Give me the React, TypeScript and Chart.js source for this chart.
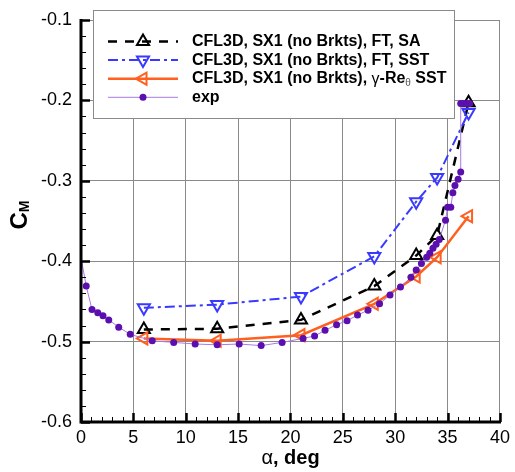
import { useEffect, useRef } from "react";
import { Chart, registerables } from "chart.js";
Chart.register(...registerables);

// ---- data ----
const alphaSA = [6, 13, 21, 28, 32, 34, 37];
const cmSA = [-0.485, -0.484, -0.473, -0.431, -0.393, -0.368, -0.203];
const alphaSST = [6, 13, 21, 28, 32, 34, 37];
const cmSST = [-0.458, -0.454, -0.444, -0.394, -0.326, -0.296, -0.215];
const alphaGRe = [6, 13, 21, 28, 32, 34, 37];
const cmGRe = [-0.496, -0.499, -0.492, -0.453, -0.419, -0.395, -0.344];
const alphaExp = [
  -0.5, 0.5, 1.05, 1.6, 2.1, 2.65, 3.6, 4.7, 6.8, 8.85, 10.9, 13.0, 15.1, 17.2, 19.2, 21.2, 22.3,
  23.3, 24.4, 25.4, 26.4, 27.4, 28.5, 29.5, 30.5, 31.5, 32.0, 32.5, 33.0, 33.3, 33.6, 33.9, 34.2,
  34.8, 35.0, 35.3, 35.5, 35.7, 36.0, 36.25, 36.25, 36.5, 36.8, 37.1,
];
const cmExp = [
  -0.36, -0.431, -0.46, -0.464, -0.468, -0.473, -0.482, -0.491, -0.499, -0.501, -0.503, -0.504,
  -0.503, -0.505, -0.501, -0.496, -0.493, -0.486, -0.479, -0.474, -0.467, -0.461, -0.453, -0.442,
  -0.432, -0.42, -0.411, -0.403, -0.395, -0.39, -0.384, -0.379, -0.373, -0.349, -0.333, -0.333,
  -0.315, -0.306, -0.298, -0.289, -0.204, -0.204, -0.204, -0.204,
];
const xTickValues = [0, 5, 10, 15, 20, 25, 30, 35, 40];
const yTickValues = [-0.6, -0.5, -0.4, -0.3, -0.2, -0.1];
const seriesLabels = [
  "CFL3D, SX1 (no Brkts), FT, SA",
  "CFL3D, SX1 (no Brkts), FT, SST",
  "CFL3D, SX1 (no Brkts), γ-Reθ SST",
  "exp",
];
const xTitleParts = ["α", ", deg"];
const yTitleParts = ["C", "M"];

const FONT = "'Liberation Sans', Arial, Helvetica, sans-serif";
const BLACK = "#000000";
const BLUE = "#3a3aff";
const ORANGE = "#ff5f1f";
const PURPLE = "#5a0fae";
const LPURPLE = "#a879e8";
const GRID = "#8a8a8a";

const zip = (xs: number[], ys: number[]) => xs.map((x, i) => ({ x, y: ys[i] }));

function drawTri(ctx: CanvasRenderingContext2D, x: number, y: number, r: number, rotDeg: number, color: string, lw: number) {
  const rad0 = (rotDeg * Math.PI) / 180;
  ctx.save();
  ctx.setLineDash([]);
  ctx.beginPath();
  for (let k = 0; k < 3; k++) {
    const a = rad0 + (k * 2 * Math.PI) / 3;
    const px = x + Math.sin(a) * r;
    const py = y - Math.cos(a) * r;
    if (k === 0) ctx.moveTo(px, py);
    else ctx.lineTo(px, py);
  }
  ctx.closePath();
  ctx.strokeStyle = color;
  ctx.lineWidth = lw;
  ctx.stroke();
  ctx.restore();
}

const decorPlugin = {
  id: "decor",
  afterDraw(chart: any) {
    const { ctx, chartArea } = chart;
    const xs = chart.scales.x;
    const ys = chart.scales.y;
    const L = chartArea.left, R = chartArea.right, T = chartArea.top, B = chartArea.bottom;
    ctx.save();
    // ticks
    ctx.strokeStyle = BLACK;
    ctx.setLineDash([]);
    for (let v = 0; v <= 40; v += 1) {
      const px = Math.round(xs.getPixelForValue(v)) + 0.5;
      const major = v % 5 === 0;
      ctx.lineWidth = major ? 2.5 : 1;
      ctx.beginPath();
      ctx.moveTo(px, B);
      ctx.lineTo(px, B - (major ? 9 : 5));
      ctx.stroke();
    }
    for (let i = 0; i <= 25; i++) {
      const v = -0.6 + i * 0.02;
      const py = Math.round(ys.getPixelForValue(v)) + 0.5;
      const major = i % 5 === 0;
      ctx.lineWidth = major ? 2.5 : 1;
      ctx.beginPath();
      ctx.moveTo(L, py);
      ctx.lineTo(L + (major ? 9 : 5), py);
      ctx.stroke();
    }
    // axes
    ctx.lineWidth = 3;
    ctx.beginPath();
    ctx.moveTo(L, T - 1);
    ctx.lineTo(L, B);
    ctx.lineTo(R + 1, B);
    ctx.stroke();

    // x title
    ctx.fillStyle = BLACK;
    ctx.textBaseline = "middle";
    ctx.textAlign = "left";
    ctx.font = `20px ${FONT}`;
    const w1 = ctx.measureText(xTitleParts[0]).width;
    ctx.font = `bold 20px ${FONT}`;
    const w2 = ctx.measureText(xTitleParts[1]).width;
    const cx = (L + R) / 2;
    const sx = cx - (w1 + w2) / 2;
    ctx.font = `20px ${FONT}`;
    ctx.fillText(xTitleParts[0], sx, 458);
    ctx.font = `bold 20px ${FONT}`;
    ctx.fillText(xTitleParts[1], sx + w1, 458);

    // y title
    ctx.save();
    ctx.translate(27, (T + B) / 2 - 6);
    ctx.rotate(-Math.PI / 2);
    ctx.textBaseline = "alphabetic";
    ctx.font = `bold 24px ${FONT}`;
    const cw = ctx.measureText(yTitleParts[0]).width;
    ctx.font = `bold 14px ${FONT}`;
    const mw = ctx.measureText(yTitleParts[1]).width;
    const st = -(cw + mw) / 2;
    ctx.font = `bold 24px ${FONT}`;
    ctx.fillText(yTitleParts[0], st, 0);
    ctx.font = `bold 14px ${FONT}`;
    ctx.fillText(yTitleParts[1], st + cw, 2);
    ctx.restore();

    // legend
    const bx = 93, by = 10, bw = 361, bh = 108;
    ctx.fillStyle = "#ffffff";
    ctx.fillRect(bx, by, bw, bh);
    ctx.strokeStyle = GRID;
    ctx.lineWidth = 1;
    ctx.strokeRect(bx + 0.5, by + 0.5, bw, bh);
    const ds = chart.data.datasets;
    for (let j = 0; j < ds.length; j++) {
      const d = ds[j];
      const i = seriesLabels.indexOf(d.label);
      const ry = 41.5 + i * 18.6;
      ctx.save();
      ctx.strokeStyle = d.borderColor;
      ctx.lineWidth = d.borderWidth;
      ctx.setLineDash(d.borderDash || []);
      ctx.beginPath();
      ctx.moveTo(108, ry);
      ctx.lineTo(178, ry);
      ctx.stroke();
      ctx.restore();
      if (d.pointStyle === "triangle") {
        drawTri(ctx, 143, ry, d.pointRadius, d.pointRotation || 0, d.pointBorderColor, d.pointBorderWidth);
      } else {
        ctx.fillStyle = d.pointBackgroundColor;
        ctx.beginPath();
        ctx.arc(143, ry, d.pointRadius, 0, Math.PI * 2);
        ctx.fill();
      }
      // text
      ctx.fillStyle = BLACK;
      ctx.textBaseline = "middle";
      ctx.textAlign = "left";
      const label: string = d.label;
      let tx = 192;
      const gi = label.indexOf("γ");
      if (gi >= 0) {
        const pre = label.slice(0, gi);
        ctx.font = `bold 16px ${FONT}`;
        ctx.fillText(pre, tx, ry);
        tx += ctx.measureText(pre).width;
        ctx.font = `16px ${FONT}`;
        ctx.fillText("γ", tx, ry + 1);
        tx += ctx.measureText("γ").width;
        const rest = label.slice(gi + 1);
        const ti = rest.indexOf("θ");
        const mid = rest.slice(0, ti);
        ctx.font = `bold 16px ${FONT}`;
        ctx.fillText(mid, tx, ry);
        tx += ctx.measureText(mid).width;
        ctx.font = `10px ${FONT}`;
        ctx.fillStyle = "#555555";
        ctx.fillText("θ", tx, ry + 5);
        tx += ctx.measureText("θ").width;
        ctx.fillStyle = BLACK;
        ctx.font = `bold 16px ${FONT}`;
        ctx.fillText(rest.slice(ti + 1), tx, ry);
      } else {
        ctx.font = `bold 16px ${FONT}`;
        ctx.fillText(label, tx, ry);
      }
    }
    ctx.restore();
  },
};

export default function App() {
  const ref = useRef<HTMLCanvasElement | null>(null);
  useEffect(() => {
    if (!ref.current) return;
    const chart = new Chart(ref.current, {
      type: "line",
      data: {
        datasets: [
          {
            label: seriesLabels[3],
            data: zip(alphaExp, cmExp),
            borderColor: LPURPLE,
            borderWidth: 1,
            pointStyle: "circle",
            pointRadius: 3.5,
            pointBackgroundColor: PURPLE,
            pointBorderColor: PURPLE,
            pointBorderWidth: 0,
            order: 0,
          } as any,
          {
            label: seriesLabels[2],
            data: zip(alphaGRe, cmGRe),
            borderColor: ORANGE,
            borderWidth: 2.5,
            pointStyle: "triangle",
            pointRotation: 270,
            pointRadius: 7,
            pointBackgroundColor: "rgba(0,0,0,0)",
            pointBorderColor: ORANGE,
            pointBorderWidth: 2,
            order: 1,
          },
          {
            label: seriesLabels[1],
            data: zip(alphaSST, cmSST),
            borderColor: BLUE,
            borderWidth: 2,
            borderDash: [10, 4, 3, 4],
            pointStyle: "triangle",
            pointRotation: 180,
            pointRadius: 7,
            pointBackgroundColor: "rgba(0,0,0,0)",
            pointBorderColor: BLUE,
            pointBorderWidth: 2,
            order: 2,
          },
          {
            label: seriesLabels[0],
            data: zip(alphaSA, cmSA),
            borderColor: BLACK,
            borderWidth: 2.5,
            borderDash: [9, 8],
            pointStyle: "triangle",
            pointRotation: 0,
            pointRadius: 7,
            pointBackgroundColor: "rgba(0,0,0,0)",
            pointBorderColor: BLACK,
            pointBorderWidth: 2,
            order: 3,
          },
        ],
      },
      options: {
        responsive: false,
        animation: false,
        layout: { padding: { left: 0, right: 12, top: 20, bottom: 0 } },
        plugins: { legend: { display: false }, tooltip: { enabled: false } },
        elements: { line: { tension: 0 } },
        scales: {
          x: {
            type: "linear",
            min: 0,
            max: 40,
            afterFit: (s: any) => {
              s.height = 50;
            },
            afterBuildTicks: (s: any) => {
              s.ticks = xTickValues.map((v) => ({ value: v }));
            },
            ticks: {
              padding: 5,
              color: BLACK,
              font: { size: 18, family: FONT },
              maxRotation: 0,
              callback: (v: any) => String(v),
            },
            grid: { color: GRID, lineWidth: 1, drawTicks: false },
            border: { display: false },
          },
          y: {
            type: "linear",
            min: -0.6,
            max: -0.1,
            afterFit: (s: any) => {
              s.width = 81;
            },
            afterBuildTicks: (s: any) => {
              s.ticks = yTickValues.map((v) => ({ value: v }));
            },
            ticks: {
              padding: 9,
              color: BLACK,
              font: { size: 18, family: FONT },
              callback: (v: any) => Number(v).toFixed(1),
            },
            grid: { color: GRID, lineWidth: 1, drawTicks: false },
            border: { display: false },
          },
        },
      },
      plugins: [decorPlugin],
    });
    return () => chart.destroy();
  }, []);
  return (
    <div style={{ position: "fixed", left: 0, top: 0, width: 515, height: 472, background: "#fff" }}>
      <canvas ref={ref} width={515} height={472} />
    </div>
  );
}
